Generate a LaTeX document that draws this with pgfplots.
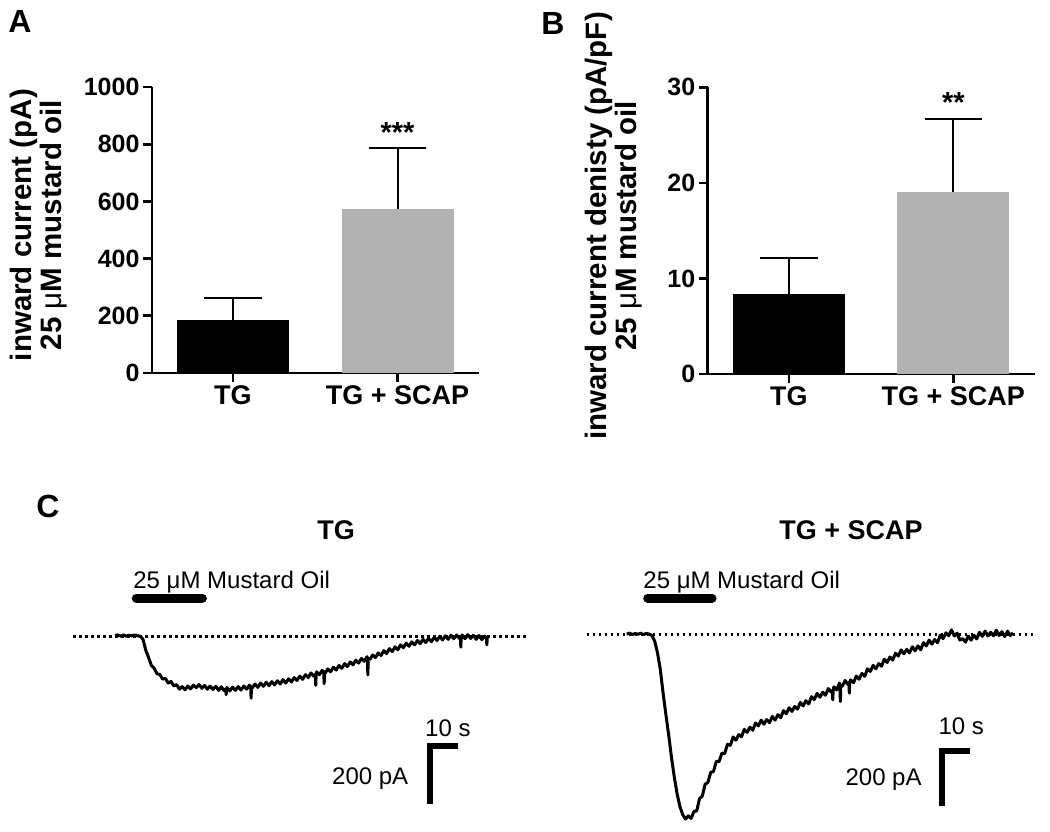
\documentclass[border=0pt]{standalone}
\usepackage{fontspec}
\setmainfont{Liberation Sans}
\usepackage{pgfplots}
\pgfplotsset{compat=1.18}

\newcommand{\ytickfont}{\bfseries\fontsize{25}{25}\selectfont}
\newcommand{\xtickfont}{\bfseries\fontsize{27}{27}\selectfont}
\newcommand{\labfont}{\bfseries\fontsize{29.5}{30}\selectfont}
\newcommand{\txtfont}{\fontsize{24}{24}\selectfont}

\definecolor{bargray}{RGB}{178,178,178}

\pgfplotsset{
  barax/.style={
    scale only axis, width=327pt, anchor=south west,
    axis x line*=bottom, axis y line*=left,
    axis line style={line width=2.7pt, black},
    tick style={line width=2.7pt, black},
    major tick length=9pt, tick align=outside,
    xtick={0,1}, xticklabels={TG, TG + SCAP},
    xticklabel style={font=\xtickfont},
    yticklabel style={font=\ytickfont},
    ylabel style={font=\labfont, align=center, anchor=center, rotate=0},
    clip=false, ymin=0, xmin=-0.492, xmax=1.495,
  },
  traceax/.style={
    scale only axis, anchor=south west, axis lines=none, clip=false,
    ymin=-650, ymax=220, height=252.3pt,
  },
  trace/.style={black, line width=3pt, line join=round},
}

\begin{document}
\begin{tikzpicture}[x=1pt,y=1pt]
\useasboundingbox (0,0) rectangle (1050,831);

% ---------------- Panel A ----------------
\begin{axis}[barax, at={(152pt,458pt)}, height=286pt, ymax=1000,
  ytick={0,200,400,600,800,1000}, yticklabels={0,200,400,600,800,1000},
  ylabel={inward current (pA)\\25 {\mdseries μ}M mustard oil},
  ylabel style={at={(axis description cs:-0.3456,0.517)}}]
\addplot[ybar, bar shift=0pt, bar width=112pt, fill=black, draw=none] coordinates {(0,185)};
\addplot[ybar, bar shift=0pt, bar width=112pt, fill=bargray, draw=none] coordinates {(1,572)};
\addplot[black, line width=2pt] coordinates {(0,185) (0,262)};
\addplot[black, line width=2pt] coordinates {(-0.174,262) (0.174,262)};
\addplot[black, line width=2pt] coordinates {(1,572) (1,786)};
\addplot[black, line width=2pt] coordinates {(0.826,786) (1.174,786)};
\node[anchor=base, font=\bfseries\fontsize{29}{29}\selectfont] at (axis cs:1,806) {***};
\end{axis}

% ---------------- Panel B ----------------
\begin{axis}[barax, at={(707.7pt,457pt)}, height=286.7pt, ymax=30,
  xmin=-0.494,
  ytick={0,10,20,30}, yticklabels={0,10,20,30},
  ylabel={inward current denisty (pA/pF)\\25 {\mdseries μ}M mustard oil},
  ylabel style={at={(axis description cs:-0.288,0.516)}}]
\addplot[ybar, bar shift=0pt, bar width=112pt, fill=black, draw=none] coordinates {(0,8.37)};
\addplot[ybar, bar shift=0pt, bar width=112pt, fill=bargray, draw=none] coordinates {(1,19.0)};
\addplot[black, line width=2pt] coordinates {(0,8.37) (0,12.17)};
\addplot[black, line width=2pt] coordinates {(-0.174,12.17) (0.174,12.17)};
\addplot[black, line width=2pt] coordinates {(1,19.0) (1,26.69)};
\addplot[black, line width=2pt] coordinates {(0.826,26.69) (1.174,26.69)};
\node[anchor=base, font=\bfseries\fontsize{29}{29}\selectfont] at (axis cs:1,27.4) {**};
\end{axis}

% ---------------- Panel C, left trace (TG) ----------------
\begin{axis}[traceax, at={(70.2pt,5.8pt)}, xmin=-16, xmax=148, width=459.2pt]
\addplot[black, line width=2.5pt, dash pattern=on 2.5pt off 3.5pt] coordinates {(-15,0) (147,0)};
\addplot[black, line width=9pt, line cap=round] coordinates {(7.6,133) (31.2,133)};
\addplot[trace] coordinates {
(0,4) (1,6) (2,2) (3,6) (4,2) (5,5) (6,3) (7,6) (8,3) (9,2) (9.5,-3)
(10,-9) (11,-47) (12,-72) (13,-99) (14,-109) (15,-128) (16,-130) (17,-146) (18,-144) (19,-160)
(20,-154) (21,-170) (22,-165) (23,-181) (24,-172) (25,-183) (26,-170) (27,-180) (28,-167) (29,-176)
(30,-165) (31,-178) (32,-168) (33,-181) (34,-170) (35,-182) (36,-171) (37,-185) (38,-173) (39,-186)
(39.55,-180) (39.7,-200) (39.85,-178) (40,-175) (41,-187) (42,-174) (43,-185) (44,-172) (45,-184) (46,-170) (47,-181) (48,-167)
(48.45,-172) (48.6,-212) (48.75,-174) (49,-177) (50,-163) (51,-175) (52,-160) (53,-171) (54,-157) (55,-169) (56,-155) (57,-166)
(58,-152) (59,-163) (60,-148) (61,-160) (62,-145) (63,-156) (64,-141) (65,-151) (66,-136) (67,-147)
(68,-131) (69,-141) (70,-125) (71,-136) (71.55,-130) (71.7,-168) (71.85,-128) (72,-121) (73,-131) (74,-116)
(74.55,-122) (74.7,-162) (74.85,-122) (75,-127)
(76,-111) (77,-121) (78,-105) (79,-115) (80,-99) (81,-109) (82,-93) (83,-103) (84,-87) (85,-97)
(86,-81) (87,-91) (88,-75) (89,-85) (90,-69) (90.15,-74) (90.3,-132) (90.45,-76) (91,-79) (92,-63) (93,-72) (94,-56)
(95,-65) (96,-48) (97,-58) (98,-41) (99,-51) (100,-35) (101,-45) (102,-28) (103,-38) (104,-22)
(105,-33) (106,-18) (107,-28) (108,-13) (109,-24) (110,-9) (111,-20) (112,-6) (113,-17) (114,-2)
(115,-13) (116,1) (117,-11) (118,3) (119,-9) (120,5) (121,-7) (122,6) (123,-6) (123.35,-2) (123.5,-36) (123.65,-2)
(124,6) (125,-7) (126,7) (127,-6) (128,5) (129,-9) (130,4) (131,-10) (132,2) (132.65,-4) (132.8,-28) (132.95,-4) (133,-6)
};
\addplot[black, line width=6pt] coordinates {(122.5,-377) (112.5,-377) (112.5,-577)};
\node[anchor=base west, font=\txtfont, inner sep=0pt] at (axis cs:6.5,167) {25 μM Mustard Oil};
\node[anchor=base west, font=\txtfont, inner sep=0pt] at (axis cs:110.7,-345) {10 s};
\node[anchor=base east, font=\txtfont, inner sep=0pt] at (axis cs:104.8,-511) {200 pA};
\end{axis}

% ---------------- Panel C, right trace (TG + SCAP) ----------------
\begin{axis}[traceax, at={(584.7pt,8.2pt)}, xmin=-15, xmax=147, width=453.6pt]
\addplot[black, line width=2.5pt, dash pattern=on 2.5pt off 3.5pt] coordinates {(-14.2,0) (145.8,0)};
\addplot[black, line width=9pt, line cap=round] coordinates {(7.5,125) (30.5,125)};
\addplot[trace] coordinates {
(0,1) (1,4) (2,-1) (3,3) (4,0) (5,4) (6,-1) (7,3) (8,1) (9,-4)
(10,-24) (11,-64) (12,-121) (13,-203) (14,-277) (15,-348) (16,-425) (17,-493) (18,-550) (19,-594)
(20,-622) (21,-637) (22,-626) (23,-635) (24,-611) (25,-609) (26,-567) (27,-558) (28,-517) (29,-511)
(30,-476) (31,-473) (32,-438) (33,-439) (34,-410) (35,-411) (36,-379) (37,-383) (38,-354) (39,-365)
(40,-346) (41,-353) (42,-328) (43,-338) (44,-320) (45,-331) (46,-306) (47,-316) (48,-296) (49,-310)
(50,-294) (51,-305) (52,-283) (53,-296) (54,-277) (55,-288) (56,-263) (57,-274) (58,-253) (59,-266)
(60,-249) (61,-258) (62,-235) (63,-247) (64,-229) (65,-240) (66,-215) (67,-225) (68,-204) (69,-217)
(70,-200) (71,-210) (72,-187) (73,-199) (73.45,-195) (73.6,-226) (73.75,-190) (74,-181) (75,-192) (76,-168)
(76.15,-174) (76.3,-232) (76.45,-176) (77,-179)
(78,-159) (79,-173) (79.35,-166) (79.5,-203) (79.65,-165) (80,-157) (81,-167) (82,-144) (83,-155) (84,-135) (85,-145) (86,-119)
(87,-128) (88,-107) (89,-119) (90,-101) (91,-110) (92,-86) (93,-97) (94,-78) (95,-89) (96,-65)
(97,-75) (98,-54) (99,-67) (100,-52) (101,-64) (102,-43) (103,-57) (104,-40) (105,-53) (106,-29)
(107,-40) (108,-20) (109,-34) (110,-18) (111,-29) (112,-3) (113,-15) (114,5) (115,-5) (116,15)
(117,-6) (118,4) (119,-20) (120,-15) (121,-27) (122,-6) (123,-20) (124,-3) (125,-16) (126,7)
(127,-7) (128,11) (129,-6) (130,7) (131,-5) (132,14) (133,-4) (134,9) (135,-8) (136,11) (137,-4) (138,5)
};
\addplot[black, line width=6pt] coordinates {(122.7,-404) (112.7,-404) (112.7,-592)};
\node[anchor=base west, font=\txtfont, inner sep=0pt] at (axis cs:5.9,159) {25 μM Mustard Oil};
\node[anchor=base west, font=\txtfont, inner sep=0pt] at (axis cs:111.3,-347) {10 s};
\node[anchor=base east, font=\txtfont, inner sep=0pt] at (axis cs:105.4,-520) {200 pA};
\end{axis}

% ---------------- Panel letters and titles ----------------
\node[font=\bfseries\fontsize{32}{32}\selectfont] at (20,810) {A};
\node[font=\bfseries\fontsize{32}{32}\selectfont] at (553,808) {B};
\node[font=\bfseries\fontsize{32}{32}\selectfont] at (48,325) {C};
\node[font=\bfseries\fontsize{27}{27}\selectfont] at (336,301) {TG};
\node[font=\bfseries\fontsize{27}{27}\selectfont] at (851,301) {TG + SCAP};
\end{tikzpicture}
\end{document}
